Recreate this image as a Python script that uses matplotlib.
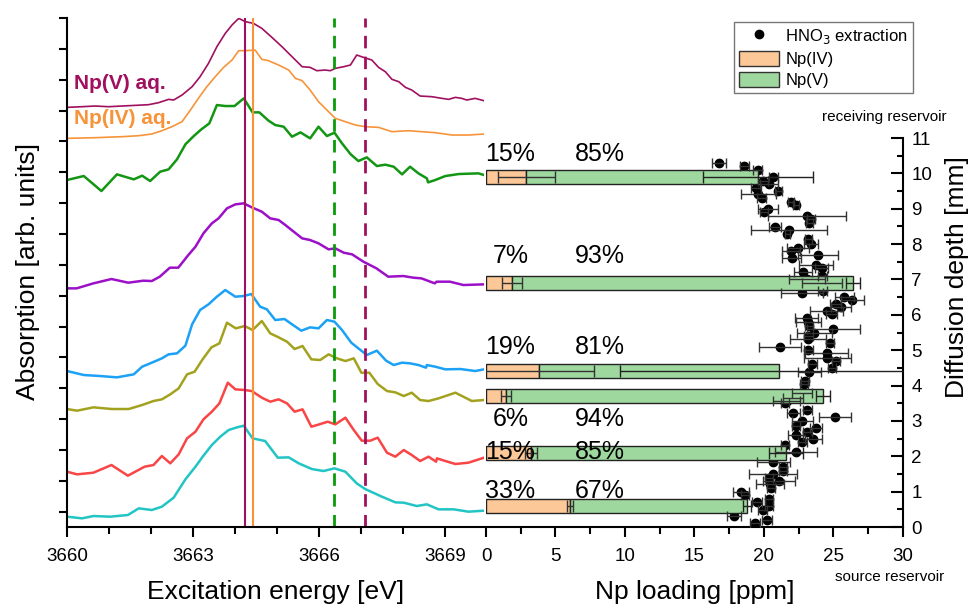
import matplotlib
matplotlib.use("Agg")
import matplotlib.pyplot as plt
import numpy as np
from matplotlib.lines import Line2D
from matplotlib.patches import Patch

plt.rcParams['font.family'] = ['Liberation Sans', 'DejaVu Sans']

# ---- XANES spectra (energy in eV, absorption in arb. units incl. offset) ----
e_np5 = [3660.00, 3660.36, 3660.67, 3660.99, 3661.31, 3661.63, 3661.94, 3662.18, 3662.42, 3662.54,
         3662.74, 3662.98, 3663.17, 3663.37, 3663.57, 3663.77, 3663.93, 3664.09, 3664.25, 3664.44,
         3664.64, 3664.88, 3665.12, 3665.36, 3665.60, 3665.79, 3665.95, 3666.15, 3666.27, 3666.39,
         3666.59, 3666.75, 3666.90, 3667.06, 3667.26, 3667.42, 3667.58, 3667.74, 3667.90, 3668.06,
         3668.21, 3668.41, 3668.69, 3668.93, 3669.09, 3669.25, 3669.40, 3669.52, 3669.72, 3669.93]
a_np5 = [12.59, 12.61, 12.63, 12.61, 12.63, 12.65, 12.67, 12.73, 12.83, 12.81,
         12.96, 13.21, 13.51, 13.91, 14.41, 14.81, 15.06, 15.26, 15.16, 15.11,
         14.96, 14.69, 14.41, 14.11, 13.81, 13.79, 13.69, 13.71, 13.69, 13.76,
         13.81, 13.86, 14.16, 14.09, 14.01, 13.79, 13.66, 13.43, 13.36, 13.19,
         13.11, 12.93, 12.91, 12.86, 12.83, 12.89, 12.86, 12.81, 12.86, 12.79]

e_np4 = [3660.00, 3660.67, 3661.31, 3661.71, 3662.02, 3662.26, 3662.50, 3662.74, 3662.94, 3663.13,
         3663.33, 3663.53, 3663.73, 3663.93, 3664.09, 3664.25, 3664.48, 3664.64, 3664.80, 3665.04,
         3665.28, 3665.44, 3665.60, 3665.79, 3665.99, 3666.19, 3666.39, 3666.63, 3666.87, 3667.10,
         3667.42, 3667.74, 3668.13, 3668.45, 3668.77, 3669.17, 3669.56, 3669.93]
a_np4 = [11.66, 11.68, 11.71, 11.74, 11.79, 11.89, 12.01, 12.16, 12.51, 12.86,
         13.21, 13.51, 13.79, 14.01, 14.29, 14.29, 14.31, 14.03, 13.99, 13.86,
         13.71, 13.46, 13.39, 13.11, 12.76, 12.51, 12.26, 12.16, 12.06, 12.01,
         11.99, 11.86, 11.89, 11.86, 11.83, 11.76, 11.76, 11.79]

e_s1 = [3660.00, 3660.40, 3660.82, 3661.19, 3661.59, 3661.79, 3661.98, 3662.22, 3662.42, 3662.62,
        3662.82, 3663.02, 3663.20, 3663.39, 3663.57, 3663.77, 3663.99, 3664.21, 3664.42, 3664.58,
        3664.80, 3664.96, 3665.16, 3665.36, 3665.56, 3665.79, 3665.99, 3666.19, 3666.37, 3666.55,
        3666.75, 3666.94, 3667.14, 3667.38, 3667.58, 3667.78, 3667.98, 3668.17, 3668.37, 3668.57,
        3668.60, 3668.77, 3669.01, 3669.33, 3669.80, 3669.93]
a_s1 = [10.41, 10.53, 10.08, 10.58, 10.43, 10.54, 10.38, 10.66, 10.73, 11.03,
        11.48, 11.73, 11.93, 12.11, 12.66, 12.63, 12.63, 12.86, 12.44, 12.44,
        12.19, 12.06, 12.01, 11.71, 11.84, 11.66, 12.01, 11.73, 11.83, 11.51,
        11.19, 10.98, 11.09, 10.83, 10.87, 10.81, 10.58, 10.81, 10.61, 10.46,
        10.34, 10.41, 10.53, 10.59, 10.61, 10.56]

e_s2 = [3660.00, 3660.23, 3660.63, 3661.06, 3661.46, 3661.82, 3662.02, 3662.21, 3662.45, 3662.65,
        3662.89, 3663.06, 3663.25, 3663.45, 3663.61, 3663.81, 3664.01, 3664.21, 3664.40, 3664.64,
        3664.84, 3665.04, 3665.20, 3665.40, 3665.60, 3665.79, 3665.99, 3666.23, 3666.39, 3666.59,
        3666.79, 3666.90, 3667.06, 3667.37, 3667.65, 3668.01, 3668.25, 3668.44, 3668.76, 3668.80,
        3669.12, 3669.44, 3669.93]
a_s2 = [7.16, 7.16, 7.31, 7.44, 7.33, 7.39, 7.38, 7.51, 7.78, 7.78,
        8.16, 8.41, 8.81, 9.11, 9.26, 9.56, 9.68, 9.71, 9.59, 9.46,
        9.26, 9.21, 9.06, 8.86, 8.66, 8.61, 8.51, 8.33, 8.36, 8.23,
        8.18, 8.09, 7.96, 7.76, 7.51, 7.53, 7.48, 7.46, 7.31, 7.36,
        7.36, 7.26, 7.28]

e_s3 = [3660.00, 3660.40, 3660.79, 3661.19, 3661.59, 3661.79, 3662.02, 3662.26, 3662.42, 3662.62,
        3662.82, 3662.98, 3663.17, 3663.37, 3663.57, 3663.77, 3664.01, 3664.21, 3664.39, 3664.60,
        3664.76, 3664.96, 3665.18, 3665.36, 3665.58, 3665.79, 3665.99, 3666.19, 3666.37, 3666.55,
        3666.77, 3666.94, 3667.14, 3667.38, 3667.60, 3667.78, 3667.98, 3668.17, 3668.37, 3668.55,
        3668.57, 3668.77, 3669.01, 3669.37, 3669.72, 3669.93]
a_s3 = [4.68, 4.56, 4.53, 4.49, 4.58, 4.81, 4.93, 5.06, 5.18, 5.21,
        5.44, 6.08, 6.51, 6.68, 6.91, 7.11, 6.91, 6.93, 6.99, 6.61,
        6.53, 6.21, 6.24, 6.08, 5.89, 5.99, 5.96, 6.21, 6.16, 5.91,
        5.53, 5.36, 5.16, 5.29, 4.99, 4.86, 4.93, 4.91, 4.86, 4.78,
        4.86, 4.81, 4.73, 4.74, 4.68, 4.73]

e_s4 = [3660.00, 3660.24, 3660.63, 3661.07, 3661.47, 3661.79, 3662.06, 3662.26, 3662.46, 3662.66,
        3662.86, 3663.04, 3663.23, 3663.44, 3663.63, 3663.81, 3664.02, 3664.23, 3664.42, 3664.64,
        3664.84, 3665.04, 3665.24, 3665.42, 3665.61, 3665.82, 3666.03, 3666.23, 3666.43, 3666.63,
        3666.83, 3667.01, 3667.20, 3667.40, 3667.62, 3667.82, 3668.02, 3668.21, 3668.41, 3668.61,
        3668.85, 3669.25, 3669.64, 3669.93]
a_s4 = [3.54, 3.49, 3.59, 3.54, 3.54, 3.66, 3.78, 3.83, 3.98, 4.16,
        4.58, 4.66, 5.03, 5.39, 5.51, 6.13, 5.96, 6.03, 5.91, 6.18,
        5.81, 5.69, 5.56, 5.34, 5.43, 5.03, 5.01, 5.18, 5.06, 4.98,
        5.06, 4.63, 4.63, 4.29, 4.08, 4.04, 3.93, 4.03, 3.81, 3.78,
        3.86, 4.03, 3.78, 3.81]

e_s5 = [3660.00, 3660.24, 3660.63, 3661.06, 3661.45, 3661.85, 3662.06, 3662.26, 3662.46, 3662.66,
        3662.86, 3663.06, 3663.25, 3663.45, 3663.63, 3663.83, 3664.01, 3664.23, 3664.40, 3664.64,
        3664.84, 3665.04, 3665.24, 3665.42, 3665.61, 3665.82, 3666.01, 3666.21, 3666.39, 3666.63,
        3666.83, 3667.02, 3667.22, 3667.40, 3667.62, 3667.82, 3668.02, 3668.21, 3668.41, 3668.61,
        3668.79, 3668.81, 3669.01, 3669.25, 3669.56, 3669.93]
a_s5 = [1.66, 1.58, 1.63, 1.86, 1.54, 1.81, 1.86, 2.13, 1.91, 2.18,
        2.66, 2.86, 3.23, 3.46, 3.71, 4.33, 4.13, 4.11, 4.08, 3.88,
        3.76, 3.83, 3.71, 3.46, 3.53, 3.01, 3.08, 3.16, 3.08, 3.28,
        2.91, 2.59, 2.59, 2.68, 2.23, 2.11, 2.31, 2.16, 1.98, 2.11,
        1.96, 2.06, 1.98, 1.89, 1.93, 2.08]

e_s6 = [3660.00, 3660.36, 3660.63, 3661.03, 3661.45, 3661.71, 3662.02, 3662.26, 3662.54, 3662.82,
        3663.06, 3663.25, 3663.45, 3663.65, 3663.85, 3664.05, 3664.21, 3664.42, 3664.72, 3665.02,
        3665.28, 3665.52, 3665.83, 3666.11, 3666.37, 3666.63, 3666.90, 3667.10, 3667.50, 3667.82,
        3668.02, 3668.33, 3668.57, 3668.85, 3669.21, 3669.56, 3669.93]
a_s6 = [0.31, 0.26, 0.33, 0.31, 0.36, 0.56, 0.51, 0.61, 0.88, 1.43,
        1.81, 2.14, 2.46, 2.71, 2.91, 2.99, 3.04, 2.66, 2.58, 2.08,
        2.09, 1.91, 1.74, 1.68, 1.76, 1.66, 1.31, 1.14, 0.91, 0.74,
        0.73, 0.63, 0.68, 0.53, 0.53, 0.46, 0.49]

# reference energies
e_white_np5 = 3664.24
e_white_np4 = 3664.42
e_feat_1 = 3666.36
e_feat_2 = 3667.10

# ---- depth profile ----
bar_depth = [9.9, 6.9, 4.4, 3.7, 2.1, 0.6]
np4_load = [2.88, 1.85, 3.83, 1.44, 3.24, 6.04]
total_load = [19.57, 26.38, 21.10, 24.27, 21.58, 18.80]
np4_err = [2.05, 0.72, 3.95, 0.36, 0.40, 0.20]
total_err = [3.95, 0.50, 11.46, 0.50, 1.20, 0.30]
pct_iv = ['15%', '7%', '19%', '6%', '15%', '33%']
pct_v = ['85%', '93%', '81%', '94%', '85%', '67%']
label_depth = [10.54, 7.66, 5.08, 3.05, 2.12, 1.02]

hno3_load = [16.76, 18.58, 19.54, 20.67, 19.95, 20.36, 19.42, 21.03, 19.59, 19.83,
             21.94, 22.30, 20.31, 20.00, 23.12, 23.36, 23.26, 20.79, 21.80, 21.68,
             23.19, 23.36, 22.47, 21.94, 23.86, 21.99, 23.72, 24.15, 22.83, 24.20,
             23.09, 24.15, 24.22, 22.73, 25.78, 26.35, 25.16, 25.52, 24.51, 24.87,
             23.07, 23.19, 23.26, 24.99, 23.62, 23.19, 23.19, 24.75, 21.15, 23.19,
             24.51, 24.56, 25.16, 23.48, 24.87, 23.26, 22.95, 22.88, 22.71, 22.11,
             21.63, 21.51, 23.12, 22.11, 25.11, 22.76, 22.30, 23.74, 23.12, 22.30,
             23.55, 22.76, 21.51, 22.30, 20.67, 21.39, 21.39, 20.67, 20.36, 21.10,
             20.43, 20.50, 18.35, 18.63, 20.38, 19.47, 20.36, 19.90, 17.84, 20.19,
             19.35]
hno3_depth = [10.30, 10.21, 10.09, 9.91, 9.78, 9.71, 9.59, 9.50, 9.41, 9.29,
              9.20, 9.10, 9.00, 8.91, 8.80, 8.70, 8.61, 8.49, 8.40, 8.28,
              8.14, 7.99, 7.90, 7.81, 7.69, 7.62, 7.40, 7.31, 7.21, 7.10,
              7.00, 6.89, 6.68, 6.61, 6.51, 6.41, 6.32, 6.21, 6.11, 6.02,
              5.90, 5.80, 5.69, 5.59, 5.50, 5.39, 5.33, 5.20, 5.10, 5.00,
              4.91, 4.79, 4.70, 4.60, 4.49, 4.39, 4.13, 4.04, 3.80, 3.66,
              3.57, 3.50, 3.31, 3.21, 3.10, 3.00, 2.86, 2.80, 2.70, 2.60,
              2.50, 2.39, 2.32, 2.11, 1.83, 1.71, 1.59, 1.50, 1.40, 1.31,
              1.21, 1.09, 1.00, 0.91, 0.79, 0.70, 0.60, 0.49, 0.30, 0.21,
              0.11]
hno3_err = [0.52, 0.34, 0.30, 0.32, 0.36, 0.64, 0.36, 0.26, 1.27, 0.30,
            0.20, 0.20, 0.72, 0.30, 2.80, 0.30, 0.25, 0.42, 2.73, 0.20,
            0.25, 0.50, 0.78, 0.66, 1.44, 0.66, 1.22, 0.48, 0.64, 0.30,
            1.29, 1.44, 0.30, 1.54, 0.70, 0.84, 0.40, 0.72, 1.20, 0.40,
            0.84, 0.92, 0.30, 1.92, 1.26, 0.30, 1.30, 0.30, 1.50, 0.30,
            1.56, 1.68, 0.30, 0.30, 0.30, 0.84, 0.30, 0.30, 0.72, 0.72,
            0.96, 0.30, 0.30, 0.48, 1.16, 0.78, 0.30, 0.42, 0.30, 0.54,
            0.62, 0.30, 0.30, 1.52, 1.20, 0.30, 0.30, 1.74, 0.30, 1.14,
            1.02, 0.30, 0.56, 0.30, 0.30, 0.36, 0.30, 0.30, 0.48, 0.36,
            0.36]

c_np5 = '#A0105E'
c_np4 = '#F7943A'
c_iv = '#FDC897'
c_v = '#9ED89E'

fig = plt.figure(figsize=(9.72, 6.05), dpi=100)
ax1 = fig.add_axes([0.0689, 0.1289, 0.429, 0.8413])
ax2 = fig.add_axes([0.5, 0.1289, 0.429, 0.643])

# left panel: spectra
ax1.plot(e_np5, a_np5, color=c_np5, lw=1.2)
ax1.plot(e_np4, a_np4, color=c_np4, lw=1.2)
ax1.plot(e_s1, a_s1, color='#139613', lw=1.8)
ax1.plot(e_s2, a_s2, color='#9C10C8', lw=1.8)
ax1.plot(e_s3, a_s3, color='#1BA1F5', lw=1.8)
ax1.plot(e_s4, a_s4, color='#A3A21F', lw=1.8)
ax1.plot(e_s5, a_s5, color='#F94545', lw=1.8)
ax1.plot(e_s6, a_s6, color='#22C4C4', lw=1.8)
ax1.axvline(e_white_np5, color=c_np5, lw=1.5)
ax1.axvline(e_white_np4, color=c_np4, lw=1.5)
ax1.axvline(e_feat_1, color='#0A9A0A', lw=2, ls=(0, (4.5, 3)))
ax1.axvline(e_feat_2, color=c_np5, lw=2, ls=(0, (4.5, 3)))
ax1.text(3660.16, 13.32, 'Np(V) aq.', color=c_np5, fontsize=15, fontweight='bold', va='center')
ax1.text(3660.16, 12.27, 'Np(IV) aq.', color=c_np4, fontsize=15, fontweight='bold', va='center')

ax1.set_xlim(3660, 3669.93)
ax1.set_ylim(0, 15.27)
ax1.set_xticks([3660, 3663, 3666, 3669])
ax1.set_xticks(np.arange(3660, 3670), minor=True)
ax1.set_yticks(0.46 + 0.9255 * np.arange(17))
ax1.set_yticklabels([])
ax1.spines['top'].set_visible(False)
ax1.spines['right'].set_visible(False)
for s in ['left', 'bottom']:
    ax1.spines[s].set_linewidth(1.5)
ax1.tick_params(axis='both', which='both', direction='out', width=1.5, labelsize=13.5)
ax1.tick_params(axis='x', which='major', length=7, pad=8)
ax1.tick_params(axis='x', which='minor', length=5)
ax1.tick_params(axis='y', length=6)

# right panel: depth profile
ax2.plot(hno3_load, hno3_depth, 'o', color='black', ms=6, zorder=2)
ax2.errorbar(hno3_load, hno3_depth, xerr=hno3_err, fmt='none', ecolor='#333333',
             elinewidth=1, capsize=3.5, zorder=4)
green_len = [t - f for t, f in zip(total_load, np4_load)]
ax2.barh(bar_depth, np4_load, height=0.4, color=c_iv, edgecolor='#222222', lw=1, zorder=3)
ax2.barh(bar_depth, green_len, left=np4_load, height=0.4, color=c_v, edgecolor='#222222',
         lw=1, zorder=3)
ax2.errorbar(np4_load, bar_depth, xerr=np4_err, fmt='none', ecolor='#333333',
             elinewidth=1, capsize=4, zorder=4)
ax2.errorbar(total_load, bar_depth, xerr=total_err, fmt='none', ecolor='#222222',
             elinewidth=1, capsize=4, zorder=4)
for ld, a, b in zip(label_depth, pct_iv, pct_v):
    ax2.text(1.75, ld, a, ha='center', va='center', fontsize=18, zorder=6)
    ax2.text(8.2, ld, b, ha='center', va='center', fontsize=18, zorder=6)

ax2.set_xlim(0, 30)
ax2.set_ylim(0, 11)
ax2.set_xticks(np.arange(0, 31, 5))
ax2.set_xticks(np.arange(0, 31, 2.5), minor=True)
ax2.set_yticks(np.arange(0, 12, 1))
ax2.set_yticks(np.arange(0, 11.5, 0.5), minor=True)
ax2.yaxis.tick_right()
ax2.spines['top'].set_visible(False)
ax2.spines['left'].set_visible(False)
for s in ['right', 'bottom']:
    ax2.spines[s].set_linewidth(1.5)
ax2.tick_params(axis='x', which='both', direction='out', width=1.5, labelsize=13.5, pad=8)
ax2.tick_params(axis='x', which='major', length=7)
ax2.tick_params(axis='x', which='minor', length=5)
ax2.tick_params(axis='y', which='both', direction='in', width=1.5, labelsize=13.5,
                right=True, left=False, pad=6)
ax2.tick_params(axis='y', which='major', length=9)
ax2.tick_params(axis='y', which='minor', length=4)

# labels
fig.text(276 / 972, 1 - 592 / 605, 'Excitation energy [eV]', ha='center', va='center', fontsize=19)
fig.text(695 / 972, 1 - 592 / 605, 'Np loading [ppm]', ha='center', va='center', fontsize=19)
fig.text(28 / 972, 1 - 272 / 605, 'Absorption [arb. units]', ha='center', va='center',
         fontsize=19, rotation=90)
fig.text(957 / 972, 1 - 277 / 605, 'Diffusion depth [mm]', ha='center', va='center',
         fontsize=19, rotation=90)
fig.text(884 / 972, 1 - 117 / 605, 'receiving reservoir', ha='center', va='center', fontsize=11)
fig.text(890 / 972, 1 - 577 / 605, 'source reservoir', ha='center', va='center', fontsize=11)

handles = [Line2D([], [], ls='none', marker='o', color='black', ms=6),
           Patch(facecolor=c_iv, edgecolor='#333333'),
           Patch(facecolor=c_v, edgecolor='#333333')]
fig.legend(handles, ['HNO$_3$ extraction', 'Np(IV)', 'Np(V)'], loc='upper right',
           bbox_to_anchor=(913 / 972, 1 - 22 / 605), fontsize=12, frameon=True,
           fancybox=False, edgecolor='#555555', handlelength=2.4, handleheight=1.0,
           labelspacing=0.3, borderpad=0.3, handletextpad=0.4, borderaxespad=0)

fig.savefig('out.png', dpi=100)
